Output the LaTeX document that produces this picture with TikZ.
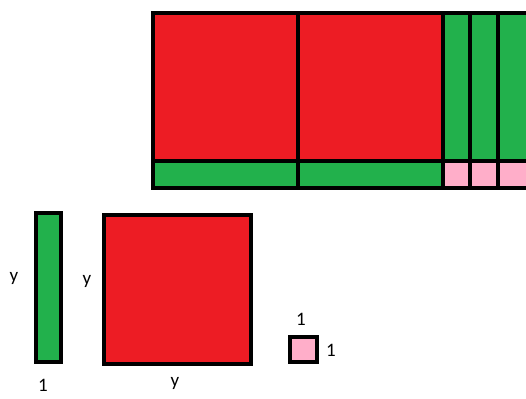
\documentclass[tikz,border=0pt]{standalone}
\usepackage{fontspec}
\setmainfont{Carlito}
\definecolor{tilered}{HTML}{ED1C24}
\definecolor{tilegreen}{HTML}{22B14C}
\definecolor{tilepink}{HTML}{FFAEC9}
\begin{document}
\begin{tikzpicture}[x=1pt,y=-1pt,
  tile/.style={draw=black,line width=3.4pt,line join=miter},
  sq/.style={tile,fill=tilered},
  bar/.style={tile,fill=tilegreen},
  unit/.style={tile,fill=tilepink},
  lbl/.style={font=\fontsize{19}{22}\selectfont,inner sep=0pt}]
\useasboundingbox (0,0) rectangle (526,398);
% top arrangement
\draw[sq] (153,13) rectangle (298,161);
\draw[sq] (298,13) rectangle (443,161);
\draw[bar] (443,13) rectangle (470,161);
\draw[bar] (470,13) rectangle (498,161);
\draw[bar] (498,13) rectangle (530,161);
\draw[bar] (153,161) rectangle (298,188);
\draw[bar] (298,161) rectangle (443,188);
\draw[unit] (443,161) rectangle (470,188);
\draw[unit] (470,161) rectangle (498,188);
\draw[unit] (498,161) rectangle (530,188);
% bottom pieces
\draw[bar] (36,213) rectangle (61,362);
\draw[sq] (104,215) rectangle (251,364);
\draw[unit] (290,337) rectangle (317,362);
% labels
\node[lbl] (ly1) at (14,278) {y};
\node[lbl] (ly2) at (87,281) {y};
\node[lbl] (l1a) at (43,385) {1};
\node[lbl] (ly3) at (175,383) {y};
\node[lbl] (l1b) at (301,319) {1};
\node[lbl] (l1c) at (331,350) {1};
\end{tikzpicture}
\end{document}
